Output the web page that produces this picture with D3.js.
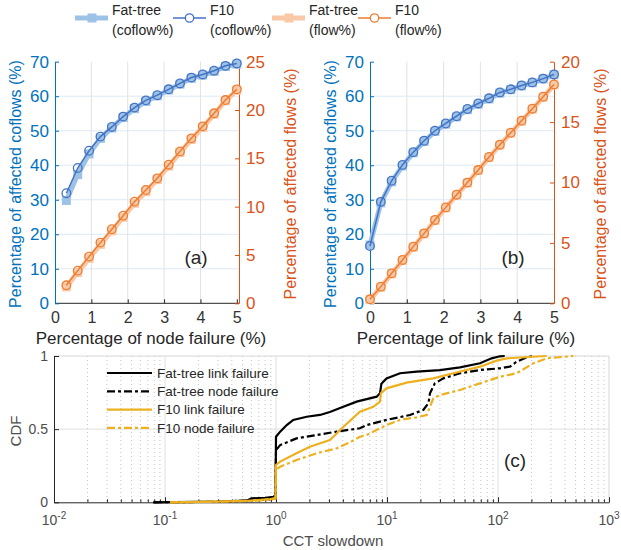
<!DOCTYPE html>
<html>
<head>
<meta charset="utf-8">
<script src="https://cdn.jsdelivr.net/npm/d3@7"></script>
<style>
  body { margin: 0; background: #fff; }
  svg { font-family: "Liberation Sans", Arial, Helvetica, sans-serif; }
</style>
</head>
<body>
<div id="chart"></div>
<script>
// Panel (a): node failure
const nodeX = [0.3125, 0.625, 0.9375, 1.25, 1.5625, 1.875, 2.1875, 2.5, 2.8125, 3.125, 3.4375, 3.75, 4.0625, 4.375, 4.6875, 5];
const nodeFatCoflow = [29.8, 37.3, 43.3, 47.8, 50.8, 53.8, 56.4, 58.5, 60.1, 61.8, 63.5, 65.2, 66.1, 67.2, 68.6, 69.3];
const nodeF10Coflow = [31.9, 39.2, 44.2, 48.3, 51.1, 54.1, 56.7, 58.8, 60.3, 62.0, 63.7, 65.4, 66.3, 67.4, 68.8, 69.5];
const nodeFatFlow = [1.7, 3.2, 4.65, 6.1, 7.5, 8.9, 10.35, 11.55, 12.8, 14.2, 15.6, 16.95, 18.2, 19.55, 20.95, 22.05];
const nodeF10Flow = [1.86, 3.38, 4.83, 6.28, 7.66, 9.07, 10.52, 11.72, 12.93, 14.34, 15.72, 17.07, 18.31, 19.66, 21.03, 22.14];

// Panel (b): link failure
const linkX = [0, 0.294, 0.588, 0.882, 1.176, 1.471, 1.765, 2.059, 2.353, 2.647, 2.941, 3.235, 3.529, 3.824, 4.118, 4.412, 4.706, 5];
const linkFatCoflow = [16.9, 29.1, 35.2, 39.8, 43.6, 46.9, 49.8, 51.9, 54.0, 56.1, 57.7, 59.2, 60.9, 61.9, 63.0, 63.9, 65.0, 66.2];
const linkF10Coflow = [16.6, 29.4, 35.5, 40.1, 43.8, 47.1, 50.0, 52.1, 54.2, 56.3, 57.9, 59.4, 61.1, 62.0, 63.1, 64.0, 65.1, 66.3];
const linkFatFlow = [0.3, 1.33, 2.43, 3.54, 4.64, 5.74, 6.85, 7.9, 8.95, 9.95, 11.0, 12.07, 13.1, 14.08, 15.08, 16.07, 17.06, 18.08];
const linkF10Flow = [0.33, 1.38, 2.48, 3.59, 4.69, 5.79, 6.90, 7.94, 8.99, 9.99, 11.03, 12.11, 13.13, 14.12, 15.12, 16.11, 17.10, 18.12];

// Panel (c): CDF of CCT slowdown, [slowdown, cdf]
const fatLink = [[0.078, 0], [0.3, 0.004], [0.55, 0.012], [0.6, 0.027], [0.8, 0.031], [0.95, 0.037], [0.99, 0.05], [1.0, 0.448],
  [1.09, 0.483], [1.25, 0.528], [1.43, 0.563], [1.89, 0.585], [2.49, 0.597], [3.06, 0.617], [4.04, 0.653], [5.33, 0.688],
  [8.07, 0.722], [8.65, 0.745], [8.9, 0.81], [9.9, 0.847], [13.1, 0.882], [18.5, 0.893], [30, 0.904], [45.5, 0.922],
  [68.8, 0.95], [87.7, 0.984], [104, 0.998], [115, 1.0]];
const fatNode = [[0.08, 0], [0.3, 0.003], [0.6, 0.015], [0.9, 0.02], [0.99, 0.03], [1.0, 0.357], [1.09, 0.391],
  [1.53, 0.437], [2.32, 0.46], [3.52, 0.483], [5.7, 0.506], [6.56, 0.528], [9.9, 0.563], [16.1, 0.597], [21.2, 0.631],
  [23.6, 0.677], [24.4, 0.745], [27, 0.813], [32.2, 0.847], [45.5, 0.882], [68.8, 0.904], [104, 0.916], [128, 0.927],
  [147, 0.961], [181, 0.99], [208, 1.0]];
const f10Link = [[0.111, 0], [0.3, 0.005], [0.6, 0.012], [0.9, 0.022], [0.99, 0.03], [1.0, 0.255], [1.09, 0.278],
  [1.53, 0.335], [2.02, 0.38], [3.06, 0.426], [3.52, 0.47], [3.77, 0.494], [5.7, 0.62], [7.53, 0.653], [8.65, 0.688],
  [8.8, 0.745], [9.9, 0.779], [15, 0.818], [26.1, 0.847], [39.6, 0.882], [68.8, 0.927], [97.3, 0.968], [120, 0.984],
  [208, 0.995], [274, 1.0]];
const f10Node = [[0.111, 0], [0.3, 0.004], [0.6, 0.01], [0.9, 0.018], [0.99, 0.025], [1.0, 0.221], [1.09, 0.243],
  [1.53, 0.289], [2.32, 0.335], [3.52, 0.369], [4.64, 0.41], [5.7, 0.448], [6.56, 0.46], [9.9, 0.528], [13.1, 0.563],
  [18.5, 0.581], [22.8, 0.597], [24.4, 0.653], [26.1, 0.711], [30, 0.733], [45.5, 0.768], [68.8, 0.813], [104, 0.858],
  [147, 0.882], [208, 0.95], [274, 0.984], [477, 1.0]];

const cdfSeries = [
  { name: "Fat-tree link failure", data: fatLink, color: "#000000", dash: null },
  { name: "Fat-tree node failure", data: fatNode, color: "#000000", dash: "8,3,3,3" },
  { name: "F10 link failure", data: f10Link, color: "#EDB120", dash: null },
  { name: "F10 node failure", data: f10Node, color: "#EDB120", dash: "8,3,3,3" }
];

const blue = "#0072BD";
const orange = "#D95319";
const fatBlue = "#9cc3e6";
const f10Blue = "#4472C4";
const fatOrange = "#f9c8a6";
const f10Orange = "#ED7D31";
const ink = "#262626";

const width = 621;
const height = 550;

const svg = d3
  .select("#chart")
  .append("svg")
  .attr("width", width)
  .attr("height", height);

// Top legend
const legendItems = [
  { label: ["Fat-tree", "(coflow%)"], color: fatBlue, fat: true, x: 75 },
  { label: ["F10", "(coflow%)"], color: f10Blue, fat: false, x: 173 },
  { label: ["Fat-tree", "(flow%)"], color: fatOrange, fat: true, x: 272 },
  { label: ["F10", "(flow%)"], color: f10Orange, fat: false, x: 358 }
];
const legend = svg.append("g").attr("id", "legend");
legendItems.forEach((d) => {
  const g = legend.append("g").attr("transform", `translate(${d.x}, 18)`);
  g.append("line")
    .attr("x1", 0)
    .attr("x2", 33)
    .attr("stroke", d.color)
    .attr("stroke-width", d.fat ? 5 : 1.5);
  if (d.fat) {
    g.append("rect").attr("x", 12.5).attr("y", -4.5).attr("width", 9).attr("height", 9).attr("fill", d.color);
  } else {
    g.append("circle").attr("cx", 16.5).attr("r", 4.2).attr("fill", "#fff").attr("stroke", d.color).attr("stroke-width", 1.3);
  }
  const t = g.append("text").attr("x", 37).attr("fill", ink).style("font-size", "14px");
  t.append("tspan").attr("x", 37).attr("y", -3).text(d.label[0]);
  t.append("tspan").attr("x", 37).attr("y", 17).text(d.label[1]);
});

// Dual-axis panels
function drawPanel(opt) {
  const g = svg.append("g");
  const x = d3.scaleLinear().domain(opt.xDomain).range(opt.xRange);
  const yL = d3.scaleLinear().domain([0, 70]).range([303.3, 61.7]);
  const yR = d3.scaleLinear().domain([0, opt.rightMax]).range([303.3, 61.7]);

  // Grid
  g.append("g")
    .selectAll("line")
    .data([10, 20, 30, 40, 50, 60])
    .enter()
    .append("line")
    .attr("x1", opt.xRange[0])
    .attr("x2", opt.xRange[1])
    .attr("y1", (d) => yL(d))
    .attr("y2", (d) => yL(d))
    .attr("stroke", "#dde9f4")
    .attr("stroke-width", 1);
  g.append("g")
    .selectAll("line")
    .data([1, 2, 3, 4])
    .enter()
    .append("line")
    .attr("x1", (d) => x(d))
    .attr("x2", (d) => x(d))
    .attr("y1", 61.7)
    .attr("y2", 303.3)
    .attr("stroke", "#e2e2e2")
    .attr("stroke-width", 1);

  // Axes
  const xAxis = d3.axisBottom(x)
    .tickValues([0, 1, 2, 3, 4, 5])
    .tickFormat(d3.format("d"))
    .tickSizeInner(-4)
    .tickSizeOuter(0)
    .tickPadding(8);
  const gx = g.append("g")
    .attr("transform", "translate(0, 303.3)")
    .attr("color", ink)
    .call(xAxis);
  gx.selectAll("text").attr("fill", "#333").style("font-size", "16px");
  gx.select(".domain").attr("d", `M${opt.xRange[0]},0H${opt.xRange[1]}`);

  const gl = g.append("g")
    .attr("transform", `translate(${opt.xRange[0]}, 0)`)
    .attr("color", blue)
    .call(d3.axisLeft(yL).tickValues(d3.range(0, 71, 10)).tickFormat(d3.format("d"))
      .tickSizeInner(-4).tickSizeOuter(0).tickPadding(6));
  gl.selectAll("text").style("font-size", "17px");

  const gr = g.append("g")
    .attr("transform", `translate(${opt.xRange[1]}, 0)`)
    .attr("color", orange)
    .call(d3.axisRight(yR).tickValues(d3.range(0, opt.rightMax + 1, 5)).tickFormat(d3.format("d"))
      .tickSizeInner(-4).tickSizeOuter(0).tickPadding(7));
  gr.selectAll("text").style("font-size", "17px");

  // Labels
  g.append("text")
    .attr("transform", `translate(${opt.leftLabelX}, 184) rotate(-90)`)
    .attr("text-anchor", "middle")
    .attr("dy", "0.35em")
    .attr("fill", blue)
    .style("font-size", "16px")
    .text("Percentage of affected coflows (%)");
  g.append("text")
    .attr("transform", `translate(${opt.rightLabelX}, 184) rotate(-90)`)
    .attr("text-anchor", "middle")
    .attr("dy", "0.35em")
    .attr("fill", orange)
    .style("font-size", "16px")
    .text("Percentage of affected flows (%)");
  g.append("text")
    .attr("x", (opt.xRange[0] + opt.xRange[1]) / 2 + 4)
    .attr("y", 344)
    .attr("text-anchor", "middle")
    .attr("fill", ink)
    .style("font-size", "17px")
    .text(opt.xLabel);
  g.append("text")
    .attr("x", opt.tagX)
    .attr("y", 264)
    .attr("text-anchor", "middle")
    .attr("fill", ink)
    .style("font-size", "19px")
    .text(opt.tag);

  // Series
  const series = [
    { y: opt.fatCoflow, scale: yL, color: fatBlue, fat: true },
    { y: opt.fatFlow, scale: yR, color: fatOrange, fat: true },
    { y: opt.f10Coflow, scale: yL, color: f10Blue, fat: false },
    { y: opt.f10Flow, scale: yR, color: f10Orange, fat: false }
  ];
  series.forEach((s) => {
    const pts = opt.xs.map((v, i) => [v, s.y[i]]);
    const line = d3.line().x((d) => x(d[0])).y((d) => s.scale(d[1]));
    g.append("path")
      .datum(pts)
      .attr("d", line)
      .attr("fill", "none")
      .attr("stroke", s.color)
      .attr("stroke-width", s.fat ? 5 : 1.5);
    if (s.fat) {
      g.append("g")
        .selectAll("rect")
        .data(pts)
        .enter()
        .append("rect")
        .attr("x", (d) => x(d[0]) - 4.5)
        .attr("y", (d) => s.scale(d[1]) - 4.5)
        .attr("width", 9)
        .attr("height", 9)
        .attr("fill", s.color);
    } else {
      g.append("g")
        .selectAll("circle")
        .data(pts)
        .enter()
        .append("circle")
        .attr("cx", (d) => x(d[0]))
        .attr("cy", (d) => s.scale(d[1]))
        .attr("r", 4.3)
        .attr("fill", "none")
        .attr("stroke", s.color)
        .attr("stroke-width", 1.3);
    }
  });
}

drawPanel({
  xs: nodeX, fatCoflow: nodeFatCoflow, f10Coflow: nodeF10Coflow, fatFlow: nodeFatFlow, f10Flow: nodeF10Flow,
  xDomain: [0, 5.06], xRange: [55, 239], rightMax: 25,
  leftLabelX: 15, rightLabelX: 290, xLabel: "Percentage of node failure (%)", tag: "(a)", tagX: 196
});
drawPanel({
  xs: linkX, fatCoflow: linkFatCoflow, f10Coflow: linkF10Coflow, fatFlow: linkFatFlow, f10Flow: linkF10Flow,
  xDomain: [0, 5], xRange: [370, 554], rightMax: 20,
  leftLabelX: 330, rightLabelX: 600, xLabel: "Percentage of link failure (%)", tag: "(b)", tagX: 513
});

// Panel (c)
const xc = d3.scaleLog().domain([0.01, 1000]).range([54, 609]);
const yc = d3.scaleLinear().domain([0, 1]).range([502.3, 356]);
const decades = [0.01, 0.1, 1, 10, 100, 1000];
const exponents = [-2, -1, 0, 1, 2, 3];
const minor = [];
decades.slice(0, 5).forEach((d) => {
  for (let k = 2; k <= 9; k++) minor.push(d * k);
});

const gc = svg.append("g");
gc.append("g")
  .selectAll("line")
  .data(minor)
  .enter()
  .append("line")
  .attr("x1", (d) => xc(d))
  .attr("x2", (d) => xc(d))
  .attr("y1", 356)
  .attr("y2", 502.3)
  .attr("stroke", "#c4c4c4")
  .attr("stroke-width", 1)
  .attr("stroke-dasharray", "1,3");
gc.append("g")
  .selectAll("line")
  .data(decades.slice(1, 5))
  .enter()
  .append("line")
  .attr("x1", (d) => xc(d))
  .attr("x2", (d) => xc(d))
  .attr("y1", 356)
  .attr("y2", 502.3)
  .attr("stroke", "#e0e0e0");
gc.append("line")
  .attr("x1", 54).attr("x2", 609)
  .attr("y1", yc(0.5)).attr("y2", yc(0.5))
  .attr("stroke", "#e0e0e0");
// box top and right
gc.append("path")
  .attr("d", `M54,356H609V502.3`)
  .attr("fill", "none")
  .attr("stroke", "#d6d6d6");

gc.append("g")
  .attr("transform", "translate(0, 502.3)")
  .attr("color", ink)
  .call(d3.axisBottom(xc).tickValues(decades).tickFormat("").tickSizeInner(-5).tickSizeOuter(0));
gc.append("g")
  .attr("transform", "translate(0, 502.3)")
  .attr("color", ink)
  .call(d3.axisBottom(xc).tickValues(minor).tickFormat("").tickSizeInner(-3).tickSizeOuter(0))
  .select(".domain").remove();
const tl = gc.append("g")
  .selectAll("text")
  .data(exponents)
  .enter()
  .append("text")
  .attr("x", (d) => xc(Math.pow(10, d)))
  .attr("y", 525)
  .attr("text-anchor", "middle")
  .attr("fill", "#4d4d4d")
  .style("font-size", "14px");
tl.append("tspan").text("10");
tl.append("tspan").attr("dy", -6).style("font-size", "10px").text((d) => d);

const gcy = gc.append("g")
  .attr("transform", "translate(54, 0)")
  .attr("color", ink)
  .call(d3.axisLeft(yc).tickValues([0, 0.5, 1]).tickFormat(d3.format("")).tickSizeInner(-5).tickSizeOuter(0).tickPadding(6));
gcy.selectAll("text").attr("fill", "#4d4d4d").style("font-size", "14px");

gc.append("text")
  .attr("transform", "translate(16, 431) rotate(-90)")
  .attr("text-anchor", "middle")
  .attr("dy", "0.35em")
  .attr("fill", "#4d4d4d")
  .style("font-size", "15px")
  .text("CDF");
gc.append("text")
  .attr("x", 333)
  .attr("y", 546)
  .attr("text-anchor", "middle")
  .attr("fill", "#4d4d4d")
  .style("font-size", "15px")
  .text("CCT slowdown");
gc.append("text")
  .attr("x", 515)
  .attr("y", 467)
  .attr("text-anchor", "middle")
  .attr("fill", ink)
  .style("font-size", "19px")
  .text("(c)");

const cdfLine = d3.line().x((d) => xc(d[0])).y((d) => yc(d[1]));
cdfSeries.forEach((s) => {
  gc.append("path")
    .datum(s.data)
    .attr("d", cdfLine)
    .attr("fill", "none")
    .attr("stroke", s.color)
    .attr("stroke-width", 2.2)
    .attr("stroke-dasharray", s.dash);
});

// Legend for (c)
const cLegend = gc.append("g");
cdfSeries.forEach((s, i) => {
  const yy = 373 + i * 18.3;
  cLegend.append("line")
    .attr("x1", 107).attr("x2", 152)
    .attr("y1", yy).attr("y2", yy)
    .attr("stroke", s.color)
    .attr("stroke-width", 2.2)
    .attr("stroke-dasharray", s.dash);
  cLegend.append("text")
    .attr("x", 157)
    .attr("y", yy)
    .attr("dy", "0.35em")
    .attr("fill", ink)
    .style("font-size", "13.5px")
    .text(s.name);
});
</script>
</body>
</html>
